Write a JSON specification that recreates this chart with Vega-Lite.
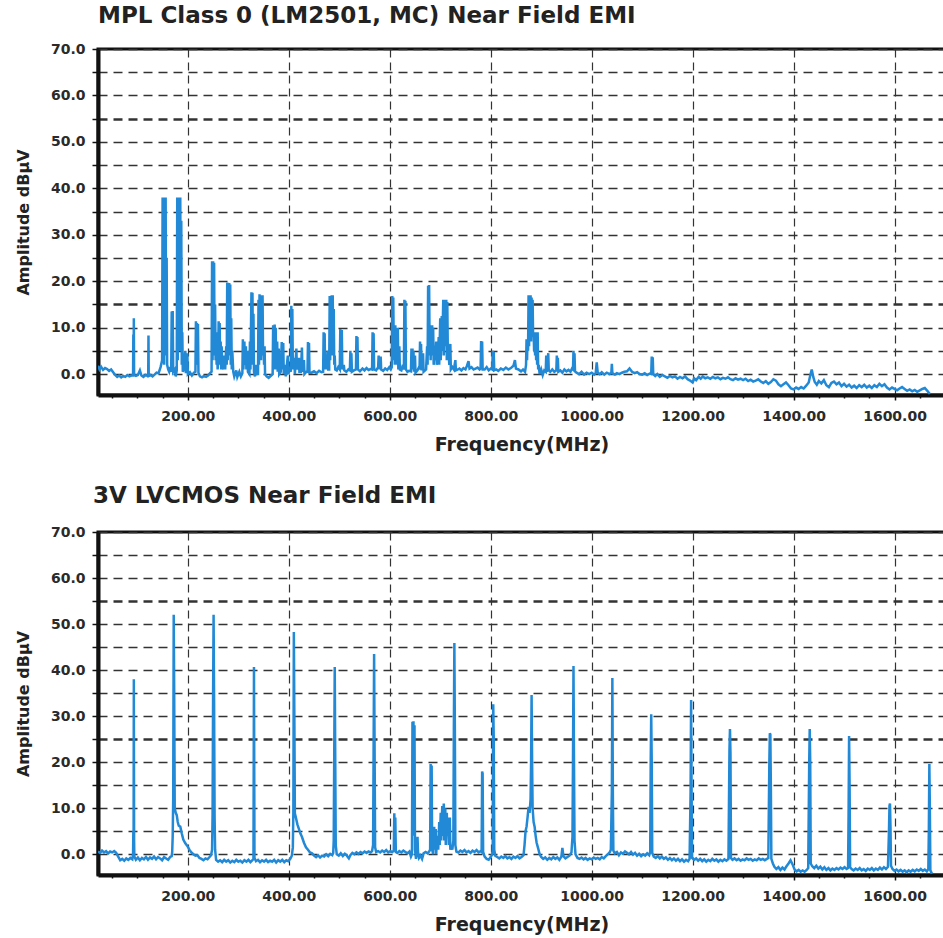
{
  "$schema": "https://vega.github.io/schema/vega-lite/v6.json",
  "background": "white",
  "padding": {"left": 13, "top": 3, "right": 0, "bottom": 0},
  "spacing": 27,
  "config": {
    "font": "DejaVu Sans",
    "view": {"stroke": "#111", "strokeWidth": 3},
    "axis": {
      "domainColor": "#111", "domainWidth": 4,
      "labelFont": "DejaVu Sans", "labelFontSize": 14, "labelFontWeight": "bold", "labelColor": "#2a2a2a",
      "titleFont": "DejaVu Sans", "titleFontWeight": "bold", "titleColor": "#222",
      "tickColor": "#111", "tickWidth": 1.5, "gridColor": "#333",
      "labelFlush": false, "labelOverlap": false
    },
    "title": {"anchor": "start", "frame": "group", "fontSize": 23, "fontWeight": "bold", "color": "#222", "offset": 14, "font": "DejaVu Sans"}
  },
  "datasets": {
    "mpl": [
      {"f":22,"a":1.8},{"f":25,"a":1.0},{"f":28,"a":1.6},{"f":32,"a":0.9},{"f":36,"a":1.3},{"f":40,"a":1.1},{"f":44,"a":0.7},{"f":48,"a":1.0},{"f":52,"a":0.4},{"f":56,"a":-0.2},{"f":60,"a":-0.6},{"f":64,"a":-0.3},{"f":68,"a":-0.7},{"f":72,"a":-0.4},{"f":76,"a":-0.6},{"f":80,"a":-0.2},{"f":84,"a":-0.5},{"f":88,"a":-0.3},
      {"f":91.5,"a":-0.3},{"f":92,"a":8.5},{"f":92.5,"a":0},{"f":93,"a":12},{"f":93.5,"a":-0.2},
      {"f":97,"a":-0.4},{"f":101,"a":-0.2},{"f":105,"a":0.8},{"f":108,"a":-0.3},{"f":112,"a":-0.6},{"f":116,"a":-0.2},{"f":120,"a":-0.4},
      {"f":121.5,"a":-0.3},{"f":122,"a":8.3},{"f":122.5,"a":-0.4},
      {"f":126,"a":-0.2},{"f":130,"a":-0.5},{"f":134,"a":-0.1},{"f":138,"a":0.3},{"f":142,"a":0.2},{"f":146,"a":1.5},{"f":148,"a":2.5},
      {"f":149,"a":3},{"f":150,"a":38},{"f":151,"a":5},{"f":152,"a":38},{"f":153,"a":2},{"f":154,"a":38},{"f":155,"a":4},{"f":156,"a":38},{"f":157,"a":6},{"f":158,"a":25},{"f":159,"a":2},
      {"f":161,"a":1},{"f":163,"a":0.5},{"f":165,"a":1.5},
      {"f":167,"a":0.5},{"f":168,"a":13.5},{"f":169,"a":1},{"f":170,"a":13.6},{"f":171,"a":0.5},
      {"f":174,"a":1.0},{"f":176,"a":-0.5},
      {"f":178,"a":0.8},{"f":179,"a":38},{"f":180,"a":3},{"f":181,"a":38},{"f":182,"a":5},{"f":183,"a":38},{"f":184,"a":9},{"f":185,"a":38},{"f":186,"a":5},{"f":187,"a":33},{"f":188,"a":2},{"f":189,"a":9},{"f":190,"a":0.5},
      {"f":192,"a":1},{"f":195,"a":5},{"f":196,"a":0.2},{"f":199,"a":4.5},{"f":200,"a":0},{"f":204,"a":0.4},{"f":208,"a":-0.3},{"f":212,"a":0.3},
      {"f":215,"a":0.5},{"f":216,"a":11.4},{"f":217,"a":2},{"f":218,"a":11},{"f":219,"a":2},{"f":220,"a":10.8},{"f":221,"a":0.3},
      {"f":224,"a":-0.5},{"f":228,"a":-0.7},{"f":232,"a":-0.4},{"f":236,"a":-0.6},{"f":240,"a":-0.3},{"f":244,"a":0.2},
      {"f":247,"a":0.5},{"f":248,"a":24.3},{"f":249,"a":3},{"f":250,"a":24.3},{"f":251,"a":5},{"f":252,"a":24},{"f":253,"a":4},{"f":254,"a":15},{"f":255,"a":3},{"f":256,"a":9},
      {"f":257,"a":2},{"f":258,"a":5},{"f":259,"a":1},
      {"f":260,"a":3},{"f":261,"a":11.4},{"f":262,"a":4},{"f":263,"a":11},{"f":264,"a":2},{"f":265,"a":7},{"f":266,"a":1},{"f":267,"a":6},{"f":268,"a":2},
      {"f":270,"a":1},{"f":272,"a":4},{"f":274,"a":1},{"f":276,"a":6},{"f":277,"a":2},{"f":278,"a":19.7},{"f":279,"a":3},{"f":280,"a":19.5},{"f":281,"a":4},{"f":282,"a":19.6},{"f":283,"a":5},{"f":284,"a":19.3},{"f":285,"a":2},{"f":286,"a":12},{"f":287,"a":1},{"f":288,"a":5},{"f":290,"a":0.5},
      {"f":292,"a":-0.5},{"f":296,"a":0.8},{"f":298,"a":-0.6},{"f":302,"a":0.5},{"f":305,"a":-0.5},
      {"f":308,"a":0.2},{"f":309,"a":7.5},{"f":310,"a":1},{"f":312,"a":7},{"f":313,"a":2},{"f":315,"a":6},{"f":316,"a":1},{"f":318,"a":5},{"f":319,"a":0.5},
      {"f":322,"a":0},{"f":323,"a":7},{"f":324,"a":1},{"f":326,"a":17.6},{"f":327,"a":2},{"f":328,"a":17.5},{"f":329,"a":3},{"f":330,"a":13},{"f":331,"a":0.5},
      {"f":333,"a":-0.5},{"f":335,"a":2},{"f":337,"a":0},
      {"f":339,"a":0},{"f":340,"a":16},{"f":341,"a":2},{"f":342,"a":17.2},{"f":343,"a":5},{"f":344,"a":17},{"f":345,"a":3},{"f":346,"a":17},{"f":347,"a":6},{"f":348,"a":17},{"f":349,"a":4},{"f":350,"a":6},{"f":351,"a":2},{"f":352,"a":6},{"f":353,"a":0},
      {"f":356,"a":-0.5},{"f":360,"a":-0.8},{"f":364,"a":-0.4},
      {"f":368,"a":0},{"f":369,"a":10.5},{"f":370,"a":1},{"f":372,"a":10.7},{"f":373,"a":3},{"f":374,"a":10},{"f":375,"a":1},{"f":377,"a":7},{"f":378,"a":0.5},{"f":380,"a":5.5},{"f":381,"a":0},
      {"f":384,"a":0.5},{"f":386,"a":6.9},{"f":387,"a":1},{"f":389,"a":6.7},{"f":390,"a":0},
      {"f":392,"a":2},{"f":394,"a":-0.5},{"f":398,"a":4},{"f":399,"a":0},{"f":402,"a":1},
      {"f":404,"a":0.5},{"f":405,"a":14.7},{"f":406,"a":2},{"f":407,"a":14},{"f":408,"a":1},
      {"f":411,"a":3.5},{"f":412,"a":0},{"f":415,"a":5.5},{"f":416,"a":1},{"f":420,"a":3.5},{"f":421,"a":0.5},
      {"f":424,"a":0.5},{"f":426,"a":5.7},{"f":427,"a":0.5},{"f":430,"a":3},{"f":431,"a":0},{"f":435,"a":0.5},
      {"f":437,"a":0.5},{"f":438,"a":6.9},{"f":439,"a":1},{"f":440,"a":6.7},{"f":441,"a":0.3},
      {"f":445,"a":0.3},{"f":450,"a":0.6},{"f":455,"a":0.2},{"f":460,"a":0.7},{"f":465,"a":0.4},
      {"f":468,"a":0.5},{"f":469,"a":9},{"f":470,"a":2},{"f":471,"a":8.8},{"f":472,"a":1},{"f":474,"a":3},{"f":475,"a":1},{"f":477,"a":5},{"f":478,"a":1},
      {"f":480,"a":1},{"f":481,"a":16.8},{"f":482,"a":3},{"f":483,"a":16},{"f":484,"a":5},{"f":485,"a":17},{"f":486,"a":4},{"f":487,"a":17},{"f":488,"a":6},{"f":489,"a":14},{"f":490,"a":2},{"f":491,"a":4},{"f":492,"a":1},
      {"f":495,"a":0.8},{"f":498,"a":1.5},
      {"f":501,"a":1},{"f":502,"a":9.7},{"f":503,"a":2},{"f":505,"a":9.5},{"f":506,"a":1},{"f":509,"a":2},{"f":510,"a":0.8},
      {"f":514,"a":0.5},{"f":518,"a":1},
      {"f":521,"a":0.8},{"f":522,"a":5},{"f":523,"a":1},{"f":524,"a":4.5},{"f":525,"a":0.5},
      {"f":529,"a":0.8},
      {"f":533,"a":1},{"f":534,"a":8.2},{"f":535,"a":1.5},{"f":536,"a":8},{"f":537,"a":1},
      {"f":541,"a":0.6},{"f":546,"a":1.2},{"f":550,"a":0.8},{"f":554,"a":1.3},{"f":558,"a":0.9},{"f":562,"a":1.1},
      {"f":565,"a":1},{"f":566,"a":9},{"f":567,"a":2},{"f":568,"a":8.8},{"f":569,"a":1},
      {"f":573,"a":0.8},{"f":577,"a":1.5},{"f":578,"a":4},{"f":579,"a":1},{"f":582,"a":3.8},{"f":583,"a":1},{"f":587,"a":0.7},{"f":591,"a":1.2},{"f":595,"a":0.9},{"f":599,"a":1.5},{"f":602,"a":1},
      {"f":604,"a":1.5},{"f":605,"a":16.8},{"f":606,"a":3},{"f":607,"a":16.5},{"f":608,"a":4},{"f":609,"a":10},{"f":610,"a":2},{"f":611,"a":10.5},{"f":612,"a":3},{"f":613,"a":10},{"f":614,"a":2},{"f":616,"a":10},{"f":617,"a":1},{"f":619,"a":6},{"f":620,"a":1},
      {"f":623,"a":0.8},{"f":626,"a":2},
      {"f":628,"a":1},{"f":629,"a":16},{"f":630,"a":3},{"f":631,"a":15.8},{"f":632,"a":1},
      {"f":635,"a":0.5},{"f":638,"a":0.7},
      {"f":642,"a":0.6},{"f":643,"a":5.5},{"f":644,"a":1},{"f":645,"a":5.5},{"f":646,"a":2},{"f":647,"a":5},{"f":648,"a":0.5},{"f":650,"a":4},{"f":651,"a":0.3},
      {"f":655,"a":0.8},{"f":658,"a":1.5},
      {"f":659,"a":1},{"f":660,"a":7},{"f":661,"a":2},{"f":662,"a":6.5},{"f":663,"a":0.8},{"f":666,"a":4.5},{"f":667,"a":0.5},
      {"f":672,"a":1},{"f":674,"a":6},{"f":675,"a":2},{"f":676,"a":19},{"f":677,"a":4},{"f":678,"a":19.2},{"f":679,"a":5},{"f":680,"a":10.5},{"f":681,"a":3},{"f":682,"a":10},{"f":683,"a":5},{"f":684,"a":10.5},{"f":685,"a":4},{"f":686,"a":10},{"f":687,"a":2},{"f":689,"a":6},{"f":690,"a":3},{"f":692,"a":7},{"f":693,"a":2},
      {"f":695,"a":3},{"f":697,"a":8},{"f":698,"a":2},{"f":700,"a":12},{"f":701,"a":3},{"f":703,"a":12.5},{"f":704,"a":5},{"f":706,"a":16},{"f":707,"a":4},{"f":709,"a":16},{"f":710,"a":6},{"f":712,"a":16},{"f":713,"a":3},{"f":714,"a":15.5},{"f":715,"a":5},{"f":716,"a":6},{"f":718,"a":2},{"f":720,"a":6.5},{"f":721,"a":1},
      {"f":724,"a":1.5},{"f":727,"a":1},{"f":730,"a":3},{"f":731,"a":0.8},{"f":735,"a":1},
      {"f":738,"a":1.2},{"f":742,"a":0.8},{"f":746,"a":1.3},{"f":750,"a":1},{"f":753,"a":1.8},{"f":756,"a":2.8},{"f":758,"a":1.2},{"f":762,"a":1.5},{"f":766,"a":1},{"f":770,"a":1.2},{"f":774,"a":1.4},{"f":778,"a":1},
      {"f":780,"a":1.2},{"f":781,"a":7.1},{"f":782,"a":2},{"f":783,"a":7},{"f":784,"a":1},
      {"f":788,"a":1},{"f":792,"a":1.5},{"f":796,"a":0.8},{"f":800,"a":1.2},
      {"f":803,"a":1},{"f":804,"a":5},{"f":805,"a":1.5},{"f":806,"a":4.8},{"f":807,"a":0.8},
      {"f":811,"a":1},{"f":815,"a":0.7},{"f":820,"a":1.2},{"f":825,"a":0.9},{"f":830,"a":1.4},{"f":835,"a":1},{"f":840,"a":1.3},{"f":845,"a":1.8},{"f":848,"a":3},{"f":850,"a":1.2},{"f":855,"a":1},{"f":860,"a":0.6},{"f":864,"a":1},{"f":868,"a":0.5},
      {"f":870,"a":2},{"f":871,"a":7.5},{"f":872,"a":3},{"f":873,"a":7.5},{"f":874,"a":5},{"f":875,"a":17},{"f":876,"a":6},{"f":877,"a":17},{"f":878,"a":8},{"f":879,"a":17},{"f":880,"a":7},{"f":881,"a":16.5},{"f":882,"a":9},{"f":883,"a":16},{"f":884,"a":8},{"f":885,"a":9},{"f":886,"a":5},{"f":887,"a":9},{"f":888,"a":4},{"f":889,"a":9},{"f":890,"a":3},{"f":891,"a":8},{"f":892,"a":2},{"f":893,"a":9},{"f":894,"a":1},{"f":895,"a":2},{"f":897,"a":0},
      {"f":900,"a":1},{"f":903,"a":-0.2},{"f":906,"a":0.8},
      {"f":909,"a":0.5},{"f":910,"a":4},{"f":911,"a":0.5},{"f":914,"a":4.5},{"f":915,"a":0.8},{"f":918,"a":0.5},{"f":922,"a":1},{"f":926,"a":0.5},
      {"f":930,"a":0.8},{"f":931,"a":4},{"f":932,"a":1},{"f":933,"a":3.5},{"f":934,"a":0.5},
      {"f":938,"a":0.8},{"f":942,"a":0.3},{"f":946,"a":1},{"f":950,"a":0.6},{"f":954,"a":0.9},{"f":958,"a":0.5},{"f":961,"a":1.2},
      {"f":963,"a":1},{"f":964,"a":5},{"f":965,"a":1},{"f":966,"a":4.5},{"f":967,"a":0.6},
      {"f":970,"a":0.3},{"f":975,"a":0},{"f":980,"a":0.5},{"f":985,"a":-0.1},{"f":990,"a":0.3},{"f":995,"a":0},{"f":1000,"a":0.3},{"f":1005,"a":-0.1},
      {"f":1008,"a":0.2},{"f":1010,"a":2.5},{"f":1012,"a":0.3},
      {"f":1016,"a":0},{"f":1020,"a":0.4},{"f":1025,"a":-0.1},{"f":1030,"a":0.3},{"f":1035,"a":0},
      {"f":1039,"a":0.3},{"f":1040,"a":2.2},{"f":1041,"a":0.2},
      {"f":1046,"a":-0.1},{"f":1050,"a":0.2},{"f":1055,"a":0},{"f":1060,"a":0.3},{"f":1065,"a":0.5},{"f":1070,"a":0.6},{"f":1075,"a":1.2},{"f":1080,"a":0.5},{"f":1085,"a":0.2},{"f":1090,"a":0.4},{"f":1095,"a":0},{"f":1100,"a":-0.1},{"f":1105,"a":0.2},{"f":1110,"a":-0.2},{"f":1115,"a":0.1},
      {"f":1118,"a":0},{"f":1119,"a":3.8},{"f":1120,"a":0.8},{"f":1121,"a":3.6},{"f":1122,"a":0},
      {"f":1126,"a":-0.4},{"f":1130,"a":0},{"f":1135,"a":-0.6},{"f":1140,"a":-0.2},{"f":1145,"a":-0.5},{"f":1150,"a":-0.8},{"f":1155,"a":-0.4},{"f":1160,"a":-0.7},{"f":1165,"a":-0.5},{"f":1170,"a":-1},{"f":1175,"a":-0.6},{"f":1180,"a":-0.9},{"f":1185,"a":-0.5},{"f":1190,"a":-1.1},{"f":1195,"a":-1.4},{"f":1200,"a":-1.8},{"f":1203,"a":-0.9},{"f":1207,"a":-1.3},{"f":1212,"a":-0.6},{"f":1216,"a":-1},{"f":1220,"a":-0.5},{"f":1225,"a":-0.9},{"f":1230,"a":-0.7},{"f":1235,"a":-1},{"f":1240,"a":-0.6},{"f":1245,"a":-0.9},{"f":1250,"a":-0.7},{"f":1255,"a":-1.1},{"f":1260,"a":-0.8},{"f":1265,"a":-1},{"f":1270,"a":-0.7},{"f":1275,"a":-1.1},{"f":1280,"a":-1.3},{"f":1285,"a":-0.9},{"f":1290,"a":-1.2},{"f":1295,"a":-1},{"f":1300,"a":-1.3},{"f":1305,"a":-1},{"f":1310,"a":-1.5},{"f":1315,"a":-1.2},{"f":1320,"a":-1.6},{"f":1325,"a":-1.4},{"f":1330,"a":-1.1},{"f":1335,"a":-1.6},{"f":1340,"a":-1.9},{"f":1345,"a":-1.5},{"f":1350,"a":-2.1},{"f":1355,"a":-1.7},{"f":1360,"a":-1.1},{"f":1365,"a":-1.4},{"f":1370,"a":-2.2},{"f":1375,"a":-2.6},{"f":1380,"a":-2.2},{"f":1385,"a":-1.8},{"f":1390,"a":-2.4},{"f":1395,"a":-3.1},{"f":1400,"a":-3.3},{"f":1405,"a":-2.9},{"f":1410,"a":-3.2},{"f":1415,"a":-2.8},{"f":1420,"a":-3.1},{"f":1425,"a":-2.5},{"f":1430,"a":-1.8},{"f":1433,"a":-0.3},{"f":1436,"a":1.0},{"f":1439,"a":-0.6},{"f":1442,"a":-1.7},{"f":1446,"a":-2.3},{"f":1450,"a":-1.5},{"f":1455,"a":-2.0},{"f":1460,"a":-1.3},{"f":1465,"a":-2.4},{"f":1470,"a":-2.8},{"f":1475,"a":-1.9},{"f":1480,"a":-1.6},{"f":1485,"a":-2.2},{"f":1490,"a":-1.8},{"f":1495,"a":-2.6},{"f":1500,"a":-2.1},{"f":1505,"a":-2.7},{"f":1510,"a":-2.3},{"f":1515,"a":-2.9},{"f":1520,"a":-2.5},{"f":1525,"a":-3.0},{"f":1530,"a":-2.4},{"f":1535,"a":-2.8},{"f":1540,"a":-2.3},{"f":1545,"a":-2.9},{"f":1550,"a":-2.5},{"f":1555,"a":-3.0},{"f":1560,"a":-2.4},{"f":1565,"a":-2.8},{"f":1570,"a":-2.1},{"f":1575,"a":-2.6},{"f":1580,"a":-2.2},{"f":1585,"a":-2.9},{"f":1590,"a":-3.3},{"f":1595,"a":-2.9},{"f":1600,"a":-3.2},{"f":1605,"a":-3.5},{"f":1610,"a":-3.1},{"f":1615,"a":-2.8},{"f":1620,"a":-3.2},{"f":1625,"a":-3.6},{"f":1630,"a":-3.3},{"f":1635,"a":-3.7},{"f":1640,"a":-3.4},{"f":1645,"a":-3.8},{"f":1650,"a":-3.5},{"f":1655,"a":-3.2},{"f":1660,"a":-3.0},{"f":1665,"a":-3.6},{"f":1670,"a":-4.3}
    ],
    "lvcmos": [
      {"f":22,"a":0.6},{"f":26,"a":0.3},{"f":30,"a":0.8},{"f":34,"a":0.4},{"f":38,"a":0.7},{"f":42,"a":0.2},{"f":46,"a":0.6},{"f":50,"a":0.4},{"f":54,"a":0.7},{"f":58,"a":0.3},{"f":62,"a":-0.5},{"f":66,"a":-1.3},{"f":70,"a":-1},{"f":74,"a":-1.4},{"f":78,"a":-0.9},{"f":82,"a":-1.2},{"f":86,"a":-0.8},{"f":90,"a":-1.1},
      {"f":91.5,"a":0},{"f":92,"a":5},{"f":92.5,"a":2},{"f":93,"a":38},{"f":93.5,"a":3},{"f":94,"a":-0.5},
      {"f":97,"a":-1.2},{"f":101,"a":-0.7},{"f":105,"a":-1.3},{"f":109,"a":-0.8},{"f":113,"a":-1.1},{"f":117,"a":-0.6},{"f":121,"a":-1.2},{"f":125,"a":-0.7},{"f":129,"a":-1},{"f":133,"a":-0.5},{"f":137,"a":-1.1},{"f":141,"a":-0.6},{"f":145,"a":-0.9},{"f":149,"a":-1.3},{"f":153,"a":-0.6},{"f":157,"a":-0.9},{"f":161,"a":-1.2},{"f":165,"a":-0.6},{"f":168,"a":-0.4},
      {"f":169,"a":0.5},{"f":170,"a":4},{"f":171,"a":12},{"f":172,"a":52},{"f":173,"a":34},{"f":174,"a":10},{"f":176,"a":9},{"f":178,"a":8.5},{"f":180,"a":7},{"f":182,"a":6.2},{"f":185,"a":6},{"f":188,"a":4.5},{"f":191,"a":3.2},{"f":195,"a":2.4},{"f":199,"a":1.8},{"f":203,"a":1},{"f":207,"a":0.4},{"f":211,"a":0},{"f":215,"a":-0.3},{"f":219,"a":-0.2},{"f":223,"a":-0.8},{"f":227,"a":-1},{"f":231,"a":-1.3},{"f":235,"a":-0.9},{"f":239,"a":-1.1},{"f":243,"a":-0.6},{"f":246,"a":-0.2},
      {"f":248,"a":1},{"f":249,"a":8.7},{"f":250,"a":34},{"f":251,"a":52},{"f":252,"a":33},{"f":253,"a":8},{"f":254,"a":1},{"f":256,"a":-1.2},{"f":260,"a":-1.6},{"f":264,"a":-1.3},{"f":268,"a":-1.7},{"f":272,"a":-1.2},{"f":276,"a":-1.6},{"f":280,"a":-1.3},{"f":284,"a":-1.8},{"f":288,"a":-1.4},{"f":292,"a":-1.7},{"f":296,"a":-1.2},{"f":300,"a":-1.6},{"f":304,"a":-1.4},{"f":308,"a":-1.8},{"f":312,"a":-1.3},{"f":316,"a":-1.6},{"f":320,"a":-1.2},{"f":324,"a":-1.7},{"f":328,"a":-1.3},
      {"f":330,"a":-1},{"f":331,"a":40.7},{"f":332,"a":-0.8},
      {"f":335,"a":-1.5},{"f":339,"a":-1.2},{"f":343,"a":-1.7},{"f":347,"a":-1.3},{"f":351,"a":-1.6},{"f":355,"a":-1.2},{"f":359,"a":-1.7},{"f":363,"a":-1.4},{"f":367,"a":-1.6},{"f":371,"a":-1.2},{"f":375,"a":-1.8},{"f":379,"a":-1.3},{"f":383,"a":-1.6},{"f":387,"a":-1.2},{"f":391,"a":-1.7},{"f":395,"a":-1.3},{"f":399,"a":-1.5},{"f":403,"a":-1.0},{"f":406,"a":-0.3},
      {"f":408,"a":1.5},{"f":409,"a":9},{"f":410,"a":48.3},{"f":411,"a":30},{"f":412,"a":8.9},{"f":414,"a":8},{"f":417,"a":6.5},{"f":420,"a":5.5},{"f":423,"a":4.5},{"f":426,"a":3.8},{"f":430,"a":2.5},{"f":434,"a":1.5},{"f":438,"a":1},{"f":442,"a":0.4},{"f":446,"a":0.2},{"f":450,"a":-0.3},{"f":454,"a":-0.6},{"f":458,"a":-0.2},{"f":462,"a":-0.7},{"f":466,"a":-0.3},{"f":470,"a":-0.5},{"f":474,"a":0},{"f":478,"a":-0.4},{"f":482,"a":0.1},{"f":486,"a":-0.2},{"f":488,"a":0.3},
      {"f":489,"a":3},{"f":490,"a":21.2},{"f":491,"a":40.7},{"f":492,"a":21},{"f":493,"a":2},{"f":495,"a":0},{"f":499,"a":-0.3},{"f":503,"a":0.2},{"f":507,"a":-0.4},{"f":511,"a":0.1},{"f":515,"a":-0.3},{"f":519,"a":-0.9},{"f":522,"a":-0.2},{"f":526,"a":0.3},{"f":530,"a":0},{"f":534,"a":0.4},{"f":538,"a":0.1},{"f":542,"a":0.5},{"f":546,"a":0.2},{"f":550,"a":0.6},{"f":554,"a":0.3},{"f":558,"a":0.6},{"f":562,"a":0.4},{"f":565,"a":0.7},
      {"f":567,"a":2},{"f":568,"a":22.6},{"f":569,"a":43.5},{"f":570,"a":22},{"f":571,"a":1.5},{"f":573,"a":0.5},{"f":577,"a":0.7},{"f":581,"a":0.4},{"f":585,"a":0.8},{"f":589,"a":0.5},{"f":593,"a":0.9},{"f":597,"a":0.4},{"f":601,"a":0.7},{"f":605,"a":0.5},
      {"f":608,"a":0.8},{"f":609,"a":8.9},{"f":610,"a":2},{"f":611,"a":8},{"f":612,"a":0.5},
      {"f":615,"a":0.3},{"f":619,"a":0.7},{"f":623,"a":0.4},{"f":627,"a":0.8},{"f":631,"a":0.5},{"f":635,"a":0.2},{"f":639,"a":0.6},{"f":642,"a":-0.5},
      {"f":644,"a":0},{"f":645,"a":28.8},{"f":646,"a":4},{"f":647,"a":28.9},{"f":648,"a":5},{"f":649,"a":28},{"f":650,"a":1},{"f":652,"a":-1},{"f":654,"a":0.5},{"f":655,"a":3.8},{"f":656,"a":0.5},{"f":658,"a":-0.8},{"f":661,"a":-0.3},{"f":664,"a":-1},{"f":667,"a":0.2},{"f":671,"a":0.5},{"f":675,"a":0.2},{"f":678,"a":0.6},
      {"f":680,"a":1},{"f":681,"a":19.6},{"f":682,"a":3},{"f":683,"a":19.3},{"f":684,"a":1},
      {"f":686,"a":0},{"f":688,"a":6},{"f":689,"a":1},{"f":691,"a":5.5},{"f":692,"a":0},{"f":694,"a":4},{"f":696,"a":1},{"f":698,"a":7},{"f":699,"a":2},{"f":701,"a":9},{"f":702,"a":3},{"f":704,"a":10.5},{"f":705,"a":4},{"f":707,"a":11},{"f":708,"a":3},{"f":710,"a":10},{"f":711,"a":2},{"f":713,"a":9},{"f":714,"a":4},{"f":716,"a":8},{"f":717,"a":2},{"f":719,"a":8},{"f":720,"a":1},{"f":722,"a":2},{"f":724,"a":1},
      {"f":726,"a":3},{"f":727,"a":27},{"f":728,"a":45.9},{"f":729,"a":27},{"f":730,"a":2},{"f":732,"a":0.6},{"f":736,"a":0.4},{"f":740,"a":0.8},{"f":744,"a":0.5},{"f":748,"a":0.9},{"f":752,"a":0.4},{"f":756,"a":0.7},{"f":760,"a":0.3},{"f":764,"a":0.8},{"f":768,"a":0.5},{"f":772,"a":0.9},{"f":776,"a":0.4},{"f":780,"a":0.7},
      {"f":782,"a":0.5},{"f":783,"a":18},{"f":784,"a":17.5},{"f":785,"a":0.5},
      {"f":788,"a":-0.5},{"f":792,"a":-1},{"f":796,"a":-1.2},{"f":800,"a":-0.6},{"f":803,"a":0},
      {"f":804,"a":1},{"f":805,"a":32.6},{"f":806,"a":25},{"f":807,"a":1},
      {"f":809,"a":-0.3},{"f":813,"a":-0.6},{"f":817,"a":-0.9},{"f":821,"a":-0.5},{"f":825,"a":-0.8},{"f":829,"a":-0.4},{"f":833,"a":-0.9},{"f":837,"a":-0.6},{"f":841,"a":-1},{"f":845,"a":-0.5},{"f":849,"a":-0.8},{"f":853,"a":-0.4},{"f":857,"a":-0.9},{"f":861,"a":-0.6},{"f":865,"a":-0.2},
      {"f":867,"a":2},{"f":869,"a":5},{"f":871,"a":6},{"f":873,"a":8},{"f":875,"a":10.3},{"f":877,"a":9},{"f":879,"a":12},{"f":880,"a":20},{"f":881,"a":34.6},{"f":882,"a":20},{"f":883,"a":10},{"f":885,"a":7},{"f":887,"a":6},{"f":889,"a":4},{"f":891,"a":2.5},{"f":894,"a":1.3},{"f":897,"a":0},{"f":900,"a":-0.6},{"f":904,"a":-1},{"f":908,"a":-0.7},{"f":912,"a":-1.2},{"f":916,"a":-0.8},{"f":920,"a":-1.1},{"f":924,"a":-0.6},{"f":928,"a":-1},{"f":932,"a":-0.7},{"f":936,"a":-1.2},{"f":940,"a":-0.5},{"f":942,"a":1.4},{"f":944,"a":-0.4},{"f":948,"a":-0.9},{"f":952,"a":-0.6},{"f":956,"a":-0.3},{"f":960,"a":0.4},
      {"f":962,"a":3.8},{"f":963,"a":20},{"f":964,"a":40.9},{"f":965,"a":20},{"f":966,"a":3},{"f":968,"a":0},{"f":972,"a":-0.8},{"f":976,"a":-1},{"f":980,"a":-0.7},{"f":984,"a":-1.1},{"f":988,"a":-0.8},{"f":992,"a":-1.2},{"f":996,"a":-0.9},{"f":1000,"a":-1.1},{"f":1004,"a":-0.7},{"f":1008,"a":-1},{"f":1012,"a":-0.8},{"f":1016,"a":-1.1},{"f":1020,"a":-0.6},{"f":1024,"a":-0.9},{"f":1028,"a":-0.4},{"f":1032,"a":0},{"f":1036,"a":0.5},{"f":1038,"a":1},
      {"f":1040,"a":13.6},{"f":1041,"a":38.3},{"f":1042,"a":13},{"f":1043,"a":0.8},{"f":1046,"a":0.2},{"f":1050,"a":0.5},{"f":1054,"a":-0.2},{"f":1058,"a":0.4},{"f":1062,"a":0.1},{"f":1066,"a":0.6},{"f":1070,"a":0.3},{"f":1074,"a":0},{"f":1078,"a":0.5},{"f":1082,"a":-0.1},{"f":1086,"a":0.3},{"f":1090,"a":-0.3},{"f":1094,"a":0.1},{"f":1098,"a":-0.4},{"f":1102,"a":0},{"f":1106,"a":-0.3},{"f":1110,"a":0.2},{"f":1114,"a":-0.2},
      {"f":1116,"a":0.5},{"f":1117,"a":20},{"f":1118,"a":30.4},{"f":1119,"a":20},{"f":1120,"a":0.3},{"f":1123,"a":-0.5},{"f":1127,"a":-0.8},{"f":1131,"a":-0.4},{"f":1135,"a":-0.9},{"f":1139,"a":-0.5},{"f":1143,"a":-1},{"f":1147,"a":-0.7},{"f":1151,"a":-1.2},{"f":1155,"a":-0.8},{"f":1159,"a":-1.3},{"f":1163,"a":-0.9},{"f":1167,"a":-1.4},{"f":1171,"a":-1},{"f":1175,"a":-1.5},{"f":1179,"a":-1.1},{"f":1183,"a":-1.6},{"f":1187,"a":-1.2},{"f":1191,"a":-1.5},{"f":1194,"a":-1},
      {"f":1196,"a":13.6},{"f":1197,"a":33.5},{"f":1198,"a":13},{"f":1199,"a":-0.8},{"f":1203,"a":-1.2},{"f":1207,"a":-0.9},{"f":1211,"a":-1.4},{"f":1215,"a":-1},{"f":1219,"a":-1.5},{"f":1223,"a":-1.1},{"f":1227,"a":-1.6},{"f":1231,"a":-1.2},{"f":1235,"a":-1.5},{"f":1239,"a":-1},{"f":1243,"a":-1.4},{"f":1247,"a":-1.1},{"f":1251,"a":-1.6},{"f":1255,"a":-1.2},{"f":1259,"a":-1.5},{"f":1263,"a":-1.1},{"f":1267,"a":-1.4},{"f":1271,"a":-1},
      {"f":1273,"a":22.6},{"f":1274,"a":27.2},{"f":1275,"a":22},{"f":1276,"a":-0.8},{"f":1279,"a":-1.2},{"f":1283,"a":-0.9},{"f":1287,"a":-1.3},{"f":1291,"a":-1},{"f":1295,"a":-1.4},{"f":1299,"a":-1.1},{"f":1303,"a":-1.3},{"f":1307,"a":-0.9},{"f":1311,"a":-1.2},{"f":1315,"a":-1},{"f":1319,"a":-1.4},{"f":1323,"a":-1.1},{"f":1327,"a":-1.3},{"f":1331,"a":-0.9},{"f":1335,"a":-1.2},{"f":1339,"a":-1},{"f":1343,"a":-1.3},{"f":1347,"a":-1},{"f":1350,"a":-0.8},
      {"f":1352,"a":20},{"f":1353,"a":26.3},{"f":1354,"a":26},{"f":1355,"a":15},{"f":1356,"a":-1},{"f":1359,"a":-2},{"f":1362,"a":-2.7},{"f":1366,"a":-3.2},{"f":1370,"a":-2.8},{"f":1374,"a":-3.4},{"f":1378,"a":-2.9},{"f":1382,"a":-3.3},{"f":1386,"a":-2.6},{"f":1390,"a":-2},{"f":1394,"a":-1.3},{"f":1398,"a":-2.2},{"f":1402,"a":-3.3},{"f":1406,"a":-3.7},{"f":1410,"a":-3.4},{"f":1414,"a":-3.8},{"f":1418,"a":-3.5},{"f":1422,"a":-3.8},{"f":1426,"a":-3.4},{"f":1429,"a":-3},
      {"f":1431,"a":20},{"f":1432,"a":27.2},{"f":1433,"a":20},{"f":1434,"a":-2},{"f":1437,"a":-2.6},{"f":1441,"a":-3},{"f":1445,"a":-2.5},{"f":1449,"a":-3.1},{"f":1453,"a":-2.7},{"f":1457,"a":-3.3},{"f":1461,"a":-2.8},{"f":1465,"a":-3.4},{"f":1469,"a":-3},{"f":1473,"a":-3.5},{"f":1477,"a":-3.1},{"f":1481,"a":-3.4},{"f":1485,"a":-3},{"f":1489,"a":-3.3},{"f":1493,"a":-2.9},{"f":1497,"a":-3.2},{"f":1501,"a":-2.8},{"f":1505,"a":-3.2},{"f":1508,"a":-3},
      {"f":1509,"a":8.7},{"f":1510,"a":25.7},{"f":1511,"a":15},{"f":1512,"a":-2.8},{"f":1515,"a":-3.2},{"f":1519,"a":-3.5},{"f":1523,"a":-3.1},{"f":1527,"a":-3.4},{"f":1531,"a":-3},{"f":1535,"a":-3.5},{"f":1539,"a":-3.2},{"f":1543,"a":-3.6},{"f":1547,"a":-3.1},{"f":1551,"a":-3.4},{"f":1555,"a":-3},{"f":1559,"a":-3.5},{"f":1563,"a":-3.1},{"f":1567,"a":-3.4},{"f":1571,"a":-2.9},{"f":1575,"a":-3.3},{"f":1579,"a":-2.8},{"f":1583,"a":-3.2},{"f":1587,"a":-2.7},
      {"f":1589,"a":5},{"f":1590,"a":10.5},{"f":1591,"a":11},{"f":1592,"a":6},{"f":1593,"a":-2.5},{"f":1596,"a":-3.2},{"f":1600,"a":-3.6},{"f":1604,"a":-3.3},{"f":1608,"a":-3.7},{"f":1612,"a":-3.4},{"f":1616,"a":-3.8},{"f":1620,"a":-3.5},{"f":1624,"a":-3.9},{"f":1628,"a":-3.5},{"f":1632,"a":-3.8},{"f":1636,"a":-3.4},{"f":1640,"a":-3.7},{"f":1644,"a":-3.3},{"f":1648,"a":-3.6},{"f":1652,"a":-3.2},{"f":1656,"a":-3.6},{"f":1660,"a":-3.3},{"f":1664,"a":-3.7},{"f":1667,"a":-3.2},
      {"f":1668,"a":5},{"f":1669,"a":19.6},{"f":1670,"a":10},{"f":1671,"a":-3.5},{"f":1674,"a":-4.2}
    ]
  },
  "vconcat": [
    {
      "title": {"text": "MPL Class 0 (LM2501, MC) Near Field EMI"},
      "width": 847,
      "height": 346,
      "data": {"name": "mpl"},
      "mark": {"type": "line", "color": "#2189d6", "strokeWidth": 2.5, "clip": true},
      "encoding": {
        "x": {
          "field": "f", "type": "quantitative",
          "scale": {"domain": [22, 1700], "nice": false, "zero": false},
          "axis": {
            "title": "Frequency(MHz)", "titleFontSize": 19,
            "values": [50,100,150,200,250,300,350,400,450,500,550,600,650,700,750,800,850,900,950,1000,1050,1100,1150,1200,1250,1300,1350,1400,1450,1500,1550,1600,1650],
            "labelExpr": "datum.value % 200 === 0 ? format(datum.value, '.2f') : ''",
            "gridDash": [8, 5], "gridWidth": 1.2,
            "gridOpacity": {"condition": {"test": "datum.value % 200 !== 0", "value": 0}, "value": 1},
            "tickSize": {"condition": {"test": "datum.value % 200 !== 0", "value": 3}, "value": 5},
            "labelPadding": 9, "titlePadding": 12
          }
        },
        "y": {
          "field": "a", "type": "quantitative",
          "scale": {"domain": [-4.5, 70], "nice": false, "zero": false},
          "axis": {
            "title": "Amplitude dBμV", "titleFontSize": 16,
            "values": [0,5,10,15,20,25,30,35,40,45,50,55,60,65,70],
            "labelExpr": "datum.value % 10 === 0 ? format(datum.value, '.1f') : ''",
            "gridDash": [9, 6],
            "gridWidth": {"condition": {"test": "datum.value === 15 || datum.value === 55", "value": 2.6}, "value": 1.4},
            "tickSize": 6, "labelPadding": 7, "titlePadding": 19
          }
        }
      }
    },
    {
      "title": {"text": "3V LVCMOS Near Field EMI", "dx": -5, "offset": 17},
      "width": 847,
      "height": 343,
      "data": {"name": "lvcmos"},
      "mark": {"type": "line", "color": "#2189d6", "strokeWidth": 2.5, "clip": true},
      "encoding": {
        "x": {
          "field": "f", "type": "quantitative",
          "scale": {"domain": [22, 1700], "nice": false, "zero": false},
          "axis": {
            "title": "Frequency(MHz)", "titleFontSize": 19,
            "values": [50,100,150,200,250,300,350,400,450,500,550,600,650,700,750,800,850,900,950,1000,1050,1100,1150,1200,1250,1300,1350,1400,1450,1500,1550,1600,1650],
            "labelExpr": "datum.value % 200 === 0 ? format(datum.value, '.2f') : ''",
            "gridDash": [8, 5], "gridWidth": 1.2,
            "gridOpacity": {"condition": {"test": "datum.value % 200 !== 0", "value": 0}, "value": 1},
            "tickSize": {"condition": {"test": "datum.value % 200 !== 0", "value": 3}, "value": 5},
            "labelPadding": 9, "titlePadding": 12
          }
        },
        "y": {
          "field": "a", "type": "quantitative",
          "scale": {"domain": [-4.5, 70], "nice": false, "zero": false},
          "axis": {
            "title": "Amplitude dBμV", "titleFontSize": 16,
            "values": [0,5,10,15,20,25,30,35,40,45,50,55,60,65,70],
            "labelExpr": "datum.value % 10 === 0 ? format(datum.value, '.1f') : ''",
            "gridDash": [9, 6],
            "gridWidth": {"condition": {"test": "datum.value === 25 || datum.value === 55", "value": 2.6}, "value": 1.4},
            "tickSize": 6, "labelPadding": 7, "titlePadding": 19
          }
        }
      }
    }
  ]
}
